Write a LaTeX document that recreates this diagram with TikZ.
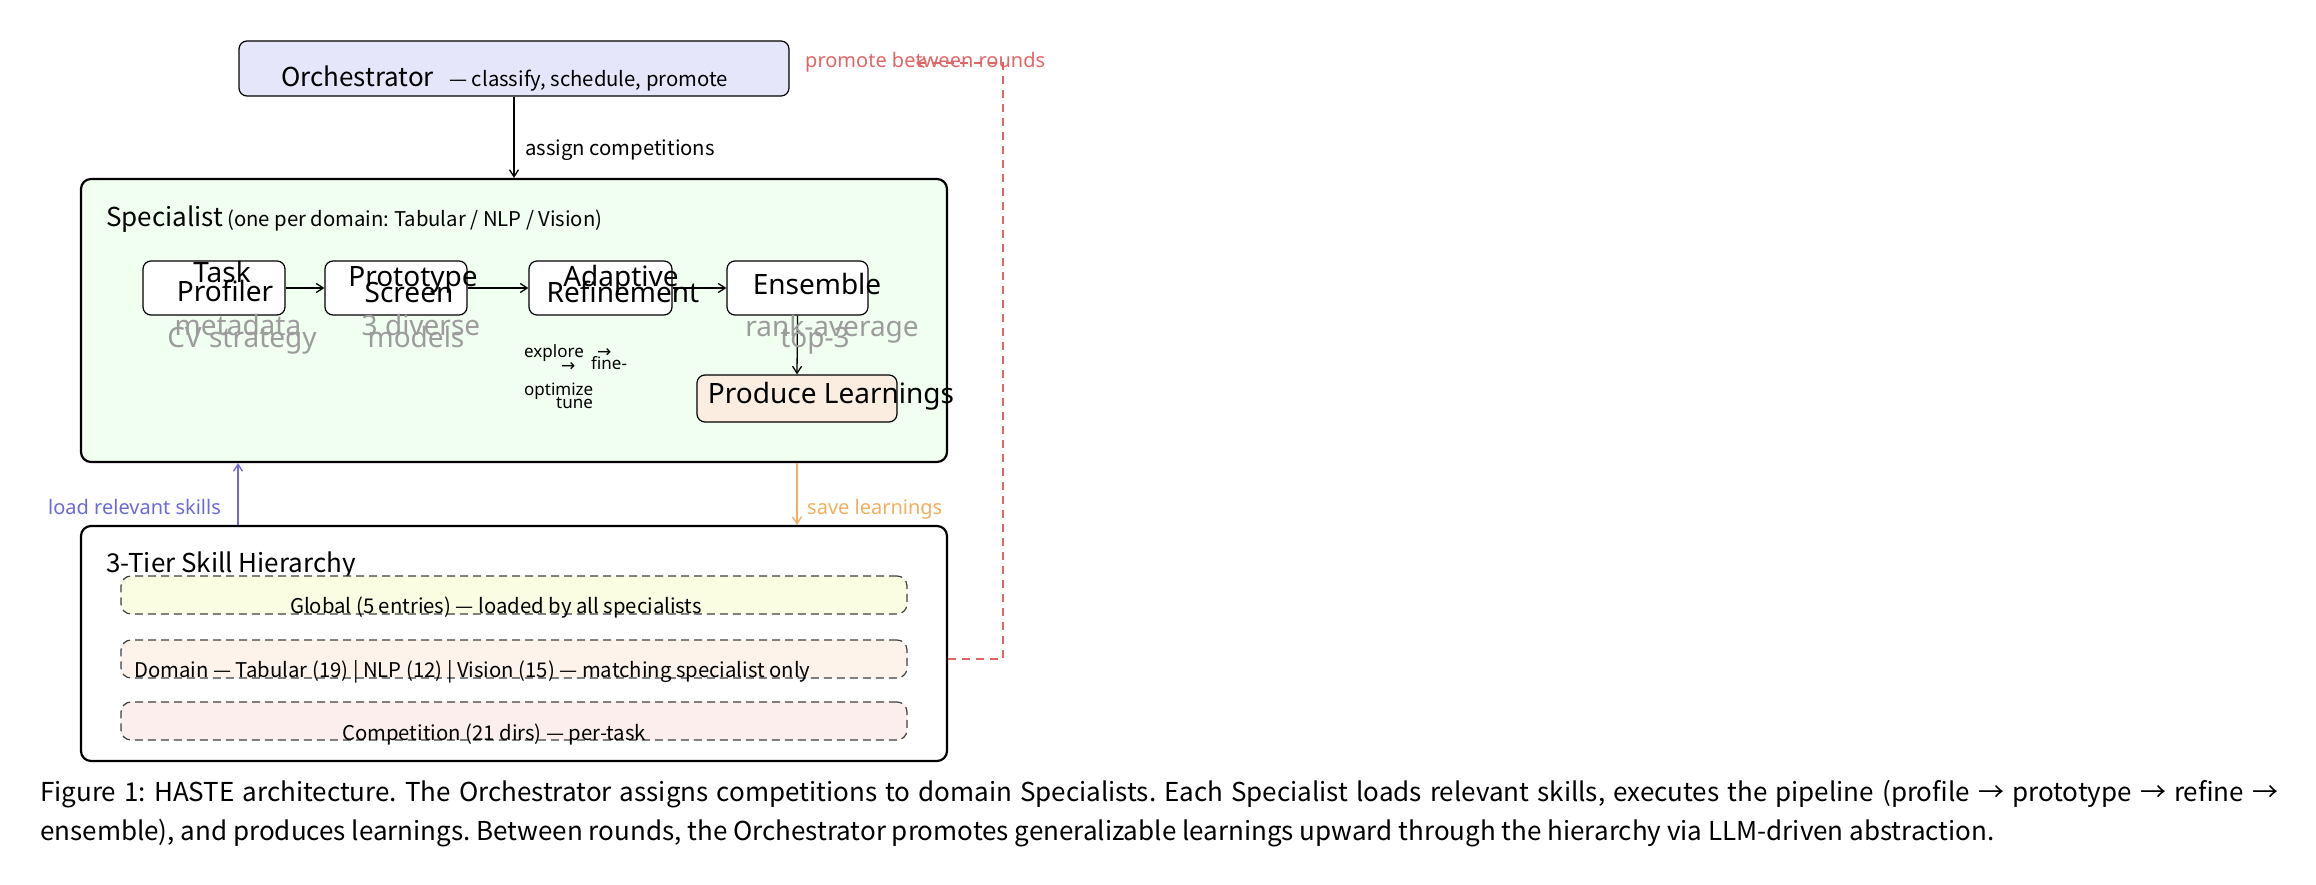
\documentclass[tikz,border=0pt]{standalone}
\usepackage{fontspec}
\setmainfont{Noto Sans CJK KR}
\newfontfamily\widefam{Noto Sans}
\newfontfamily\dvfam{DejaVu Sans}
\usetikzlibrary{arrows.meta}
\frenchspacing

\definecolor{orchfill}{HTML}{E6E6FA}
\definecolor{specfill}{HTML}{F0FFF0}
\definecolor{prodfill}{HTML}{FBEDE0}
\definecolor{globfill}{HTML}{FAFDE2}
\definecolor{domfill}{HTML}{FDF3EA}
\definecolor{compfill}{HTML}{FDEEEE}
\definecolor{redc}{HTML}{E06666}
\definecolor{bluec}{HTML}{6A6AD8}
\definecolor{orangec}{HTML}{F0B060}
\definecolor{grayc}{HTML}{9C9C9C}

\newcommand\hdfont{\fontsize{26}{28}\selectfont}
\newcommand\smfont{\fontsize{20.3}{22}\selectfont}
\newcommand\bigw{\widefam\fontsize{28}{30}\selectfont}
\newcommand\smw{\widefam\fontsize{20}{22}\selectfont}
\newcommand\tinyw{\widefam\fontsize{17}{19}\selectfont}

\begin{document}
\begin{tikzpicture}[x=1pt,y=-1pt,
  box/.style={draw, rounded corners=8pt, line width=1.2pt, inner sep=0pt},
  bigbox/.style={draw, rounded corners=10pt, line width=2.2pt, inner sep=0pt},
  tierbox/.style={draw=black!75, dash pattern=on 8pt off 5pt, rounded corners=10pt, line width=1.2pt, inner sep=0pt},
  lbl/.style={inner sep=0pt, anchor=base},
  lblw/.style={inner sep=0pt, anchor=base west},
  arr/.style={-{Straight Barb[length=7pt,width=9pt]}, line width=1.3pt},
]
\useasboundingbox (0,0) rectangle (2316,885);

% Orchestrator
\node[box, fill=orchfill, minimum width=550pt, minimum height=55pt] (orch) at (514,68.5) {};
\node[lblw, font=\hdfont] (orchT) at (281,87) {Orchestrator};
\node[lblw, font=\smfont] (orchS) at (449,87) {— classify, schedule, promote};

% Specialist
\node[bigbox, fill=specfill, minimum width=866pt, minimum height=283pt] (spec) at (514,320.5) {};
\node[lblw, font=\hdfont] (specT) at (106,227) {Specialist};
\node[lblw, font=\smfont] (specS) at (227,227) {(one per domain: Tabular / NLP / Vision)};

% pipeline boxes
\node[box, fill=white, minimum width=142pt, minimum height=54pt] (task) at (214,288) {};
\node[box, fill=white, minimum width=142pt, minimum height=54pt] (proto) at (396,288) {};
\node[box, fill=white, minimum width=143pt, minimum height=54pt] (adapt) at (600.5,288) {};
\node[box, fill=white, minimum width=141pt, minimum height=54pt] (ens) at (797.5,288) {};
\node[box, fill=prodfill, minimum width=200pt, minimum height=47pt] (prod) at (797,398.5) {};

\draw[arr] (task.east) -- (proto.west);
\draw[arr] (proto.east) -- (adapt.west);
\draw[arr] (adapt.east) -- (ens.west);
\draw[arr] (ens.south) -- (prod.north);

% box labels
\node[lbl, font=\bigw] (taskA) at (222,283) {Task};
\node[lbl, font=\bigw] (taskB) at (225,302) {Profiler};
\node[lbl, font=\bigw] (protoA) at (413,287) {Prototype};
\node[lbl, font=\bigw] (protoB) at (409,303) {Screen};
\node[lbl, font=\bigw] (adaptA) at (621,287) {Adaptive};
\node[lbl, font=\bigw] (adaptB) at (623,303) {Refinement};
\node[lbl, font=\bigw] (ensA) at (817,295) {Ensemble};
\node[lbl, font=\bigw] (prodA) at (831,403) {Produce Learnings};

% gray notes
\node[lbl, font=\bigw, text=grayc] (g1) at (238,335) {metadata};
\node[lbl, font=\bigw, text=grayc] (g2) at (242,347) {CV strategy};
\node[lbl, font=\bigw, text=grayc] (g3) at (421,335) {3 diverse};
\node[lbl, font=\bigw, text=grayc] (g4) at (416,347) {models};
\node[lbl, font=\bigw, text=grayc] (g5) at (832,337) {rank-average};
\node[lbl, font=\bigw, text=grayc] (g6) at (815,347) {top-3};

% refinement notes
\node[lblw, font=\tinyw] (e1) at (524,357) {explore};
\node[lblw, font=\tinyw] (e2) at (597,357) {\dvfam →};
\node[lblw, font=\tinyw] (e3) at (561,371) {\dvfam →};
\node[lblw, font=\tinyw] (e4) at (591,370) {fine-};
\node[lblw, font=\tinyw] (e5) at (524,395) {optimize};
\node[lblw, font=\tinyw] (e6) at (556,408) {tune};

% Hierarchy
\node[bigbox, fill=white, minimum width=866pt, minimum height=235pt] (hier) at (514,643.5) {};
\node[lblw, font=\hdfont] (hierT) at (106,572) {3-Tier Skill Hierarchy};
\node[tierbox, fill=globfill, minimum width=786pt, minimum height=38pt] (glob) at (514,595) {};
\node[tierbox, fill=domfill, minimum width=786pt, minimum height=38pt] (dom) at (514,659) {};
\node[tierbox, fill=compfill, minimum width=786pt, minimum height=38pt] (comp) at (514,721) {};
\node[lbl, font=\smfont] (globT) at (496,613) {Global (5 entries) — loaded by all specialists};
\node[lblw, font=\smfont] (domT) at (134,677) {Domain — Tabular (19) | NLP (12) | Vision (15) — matching specialist only};
\node[lbl, font=\smfont] (compT) at (494,740) {Competition (21 dirs) — per-task};

% connectors
\coordinate (lx) at (238,0);
\draw[arr] (orch.south) -- (spec.north);
\node[lblw, font=\smfont] (assignT) at (525,156) {assign competitions};

\draw[arr, draw=bluec] (hier.north -| lx) -- (spec.south -| lx);
\node[lblw, font=\smw, text=bluec] (loadT) at (48,514) {load relevant skills};

\draw[arr, draw=orangec] (spec.south -| prod) -- (hier.north -| prod);
\node[lblw, font=\smw, text=orangec] (saveT) at (807,514) {save learnings};

\coordinate (rc) at (1003,63);
\coordinate (pt) at (916,63);
\draw[arr, draw=redc, dash pattern=on 8pt off 6pt] (hier.east |- dom.center) -| (rc) -- (pt);
\node[lblw, font=\smw, text=redc] (promT) at (805,68) {promote between rounds};

% caption
\node[anchor=base west, inner sep=0pt, text width=2238pt, align=justify,
      font=\fontsize{26}{39}\selectfont] (cap) at (40,801)
 {Figure 1: HASTE architecture. The Orchestrator assigns competitions to domain Specialists. Each Specialist loads relevant skills, executes the pipeline (profile → prototype → refine →\linebreak ensemble), and produces learnings. Between rounds, the Orchestrator promotes generalizable learnings upward through the hierarchy via LLM-driven abstraction.};
\end{tikzpicture}
\end{document}
